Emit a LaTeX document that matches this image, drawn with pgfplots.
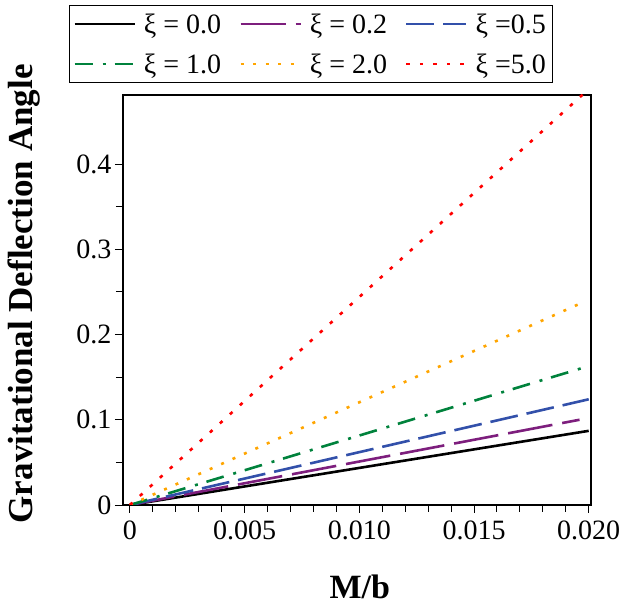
\documentclass[border=0pt]{standalone}
\usepackage{fontspec}
\setmainfont{Liberation Serif}
\usepackage{pgfplots}
\pgfplotsset{compat=1.18}
\definecolor{cpurple}{RGB}{125,30,125}
\definecolor{cblue}{RGB}{50,80,170}
\definecolor{cgreen}{RGB}{0,130,60}
\definecolor{corange}{RGB}{255,165,0}
\definecolor{cred}{RGB}{255,0,0}
\begin{document}
\begin{tikzpicture}
\begin{axis}[
  scale only axis,
  width=468pt, height=410pt,
  xmin=-0.0003, xmax=0.0201,
  ymin=0, ymax=0.481,
  scaled x ticks=false, scaled y ticks=false,
  xtick={0,0.005,0.010,0.015,0.020},
  xticklabels={0,0.005,0.010,0.015,0.020},
  minor x tick num=4,
  ytick={0,0.1,0.2,0.3,0.4},
  yticklabels={0,0.1,0.2,0.3,0.4},
  minor y tick num=1,
  tick align=outside,
  major tick length=8pt, minor tick length=7pt,
  tick style={black, line width=0.9pt},
  axis line style={line width=1.2pt},
  xtick pos=bottom, ytick pos=left,
  /pgf/number format/assume math mode=true,
  tick label style={font=\fontsize{28}{32}\selectfont},
  xticklabel style={yshift=-4pt},
  xlabel={\textbf{M/b}},
  ylabel={\textbf{Gravitational Deflection Angle}},
  xlabel style={font=\fontsize{34}{38}\selectfont, at={(axis description cs:0.506,-0.2)}, anchor=center},
  ylabel style={font=\fontsize{35}{40}\selectfont, at={(axis description cs:-0.212,0.515)}, anchor=center},
  legend columns=3,
  legend style={at={(axis description cs:0.401,1.029)}, anchor=south,
    font=\fontsize{28}{32}\selectfont, draw=black, line width=0.9pt,
    inner xsep=4pt, inner ysep=6pt, row sep=15pt,
    /tikz/every even column/.append style={column sep=16pt},
    /tikz/every odd column/.append style={column sep=6pt}},
  legend image code/.code={\draw[#1] (0pt,0pt) -- (60pt,0pt);},
  every axis plot/.append style={line width=2.6pt},
]
\addplot[black, solid] coordinates {(0,0) (0.01,0.0435) (0.020,0.087)};
\addlegendentry{ξ = 0.0}
\addplot[cpurple, dash pattern=on 45pt off 10pt] coordinates {(0,0) (0.01,0.051) (0.0196,0.1)};
\addlegendentry{ξ = 0.2}
\addplot[cblue, dash pattern=on 28pt off 9pt] coordinates {(0,0) (0.01,0.062) (0.020,0.124)};
\addlegendentry{ξ =0.5}
\addplot[cgreen, dash pattern=on 18pt off 10pt on 3pt off 9pt] coordinates {(0,0) (0.01,0.0815) (0.020,0.163)};
\addlegendentry{ξ = 1.0}
\addplot[corange, dash pattern=on 3pt off 9.5pt] coordinates {(0,0) (0.01,0.1205) (0.0196,0.236)};
\addlegendentry{ξ = 2.0}
\addplot[cred, dash pattern=on 3.5pt off 10pt] coordinates {(0,0) (0.01,0.244) (0.0198,0.483)};
\addlegendentry{ξ =5.0}
\end{axis}
\pgfresetboundingbox
\path (-123pt,-102pt) rectangle (498pt,505pt);
\end{tikzpicture}
\end{document}
